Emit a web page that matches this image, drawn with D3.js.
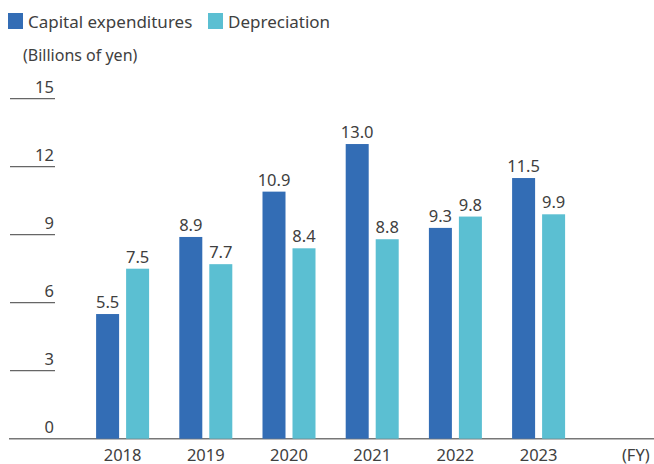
<!DOCTYPE html>
<html><head><meta charset="utf-8">
<script src="https://cdn.jsdelivr.net/npm/d3@7"></script>
<style>body{margin:0;background:#fff}svg{display:block;font-family:"Noto Sans",sans-serif}</style>
</head><body>
<script>
const years = ["2018","2019","2020","2021","2022","2023"];
const capex = [5.5, 8.9, 10.9, 13.0, 9.3, 11.5];
const depreciation = [7.5, 7.7, 8.4, 8.8, 9.8, 9.9];
const yTicks = [0, 3, 6, 9, 12, 15];
const seriesNames = ["Capital expenditures", "Depreciation"];
const colors = ["#336db5", "#5bbfd2"];

const W = 654, H = 464;
const svg = d3.select("body").append("svg").attr("width", W).attr("height", H);
const textColor = "#404040";

const y = d3.scaleLinear().domain([0, 15]).range([438.7, 98.7]);
const x = d3.scaleBand().domain([...years, "(FY)"]).range([81, 663.4]);
const barW = 23, gap = 7;

// y tick lines and labels
const gy = svg.append("g");
yTicks.filter(t => t > 0).forEach(t => {
  gy.append("line").attr("x1", 10).attr("x2", 55).attr("y1", y(t)).attr("y2", y(t))
    .attr("stroke", "#666").attr("stroke-width", 1.2);
});
yTicks.forEach(t => {
  gy.append("text").attr("x", 54).attr("y", y(t) - 6).attr("text-anchor", "end")
    .attr("font-size", 16.5).attr("fill", textColor).text(t);
});
// baseline
svg.append("line").attr("x1", 9).attr("x2", 654).attr("y1", y(0)).attr("y2", y(0))
  .attr("stroke", "#777").attr("stroke-width", 1.5);

// bars
[capex, depreciation].forEach((vals, si) => {
  const g = svg.append("g");
  vals.forEach((v, i) => {
    const cx = x(years[i]) + x.bandwidth() / 2;
    const bx = si === 0 ? cx - gap / 2 - barW : cx + gap / 2;
    g.append("rect").attr("x", bx).attr("y", y(v)).attr("width", barW)
      .attr("height", y(0) - y(v)).attr("fill", colors[si]);
    g.append("text").attr("x", bx + barW / 2).attr("y", y(v) - 6).attr("text-anchor", "middle")
      .attr("font-size", 16.5).attr("fill", textColor).text(v.toFixed(1));
  });
});

// x labels
x.domain().forEach(d => {
  svg.append("text").attr("x", x(d) + x.bandwidth() / 2 + (d === "(FY)" ? 14 : 0)).attr("y", 461)
    .attr("text-anchor", "middle").attr("font-size", 16.5).attr("fill", textColor).text(d);
});

// legend
const legX = [8, 208];
seriesNames.forEach((n, i) => {
  svg.append("rect").attr("x", legX[i]).attr("y", 13).attr("width", 15).attr("height", 16).attr("fill", colors[i]);
  svg.append("text").attr("x", legX[i] + 20).attr("y", 27.5).attr("font-size", 17).attr("fill", textColor).text(n);
});
svg.append("text").attr("x", 23).attr("y", 61).attr("font-size", 16).attr("fill", textColor).text("(Billions of yen)");
</script>
</body></html>
